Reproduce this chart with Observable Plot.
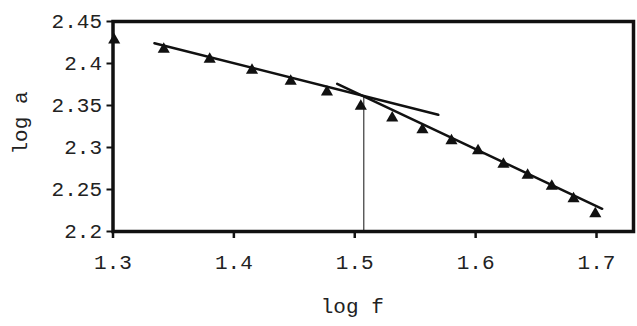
<!DOCTYPE html>
<html>
<head>
<meta charset="utf-8">
<script src="https://cdn.jsdelivr.net/npm/d3@7"></script>
<script src="https://cdn.jsdelivr.net/npm/@observablehq/plot@0.6"></script>
<style>
  html, body { margin: 0; padding: 0; background: #fff; }
</style>
</head>
<body>
<div id="chart"></div>
<script>
// Measured points (log f, log a)
const logF = [1.301, 1.342, 1.380, 1.415, 1.447, 1.477, 1.505, 1.531, 1.556, 1.580, 1.602, 1.623, 1.643, 1.663, 1.681, 1.699];
const logA = [2.428, 2.417, 2.405, 2.392, 2.379, 2.366, 2.349, 2.335, 2.321, 2.308, 2.296, 2.280, 2.267, 2.254, 2.239, 2.221];

// Fitted line segments
const fit1X = [1.3343, 1.5691];
const fit1Y = [2.4242, 2.3389];
const fit2X = [1.4855, 1.7047];
const fit2Y = [2.3758, 2.2270];

// Break point (vertical line)
const breakX = 1.5075;
const breakY = 2.3612;

const xTicks = [1.3, 1.4, 1.5, 1.6, 1.7];
const yTicks = [2.2, 2.25, 2.3, 2.35, 2.4, 2.45];

const points = logF.map((x, i) => ({x, y: logA[i]}));
const fit1 = fit1X.map((x, i) => ({x, y: fit1Y[i]}));
const fit2 = fit2X.map((x, i) => ({x, y: fit2Y[i]}));

const ink = "#111";

const chart = Plot.plot({
  width: 637,
  height: 326,
  marginLeft: 112.5,
  marginRight: 4,
  marginTop: 21,
  marginBottom: 95,
  style: {fontFamily: "'Liberation Mono', 'Courier New', monospace", fontSize: "21px", color: "#222", background: "#fff"},
  x: {domain: [1.3, 1.7306]},
  y: {domain: [2.2, 2.45]},
  marks: [
    Plot.ruleX([breakX], {y1: 2.2, y2: breakY, stroke: ink, strokeWidth: 1}),
    Plot.line(fit1, {x: "x", y: "y", stroke: ink, strokeWidth: 2.5}),
    Plot.line(fit2, {x: "x", y: "y", stroke: ink, strokeWidth: 2.5}),
    Plot.dot(points, {x: "x", y: "y", symbol: "triangle", r: 4.5, fill: ink, stroke: "none"}),
    Plot.frame({stroke: ink, strokeWidth: 3.5}),
    Plot.axisX({ticks: xTicks, tickSize: 7, tickPadding: 16, strokeWidth: 2.5, stroke: ink, tickFormat: d => d.toFixed(1), label: null}),
    Plot.axisY({ticks: yTicks, tickSize: 6, tickPadding: 5, strokeWidth: 2, stroke: ink, tickFormat: d => String(d), label: null}),
    Plot.text(["log f"], {frameAnchor: "bottom", textAnchor: "middle", dx: -21, dy: 75, lineAnchor: "middle", fill: "#222"}),
    Plot.text(["log a"], {frameAnchor: "left", textAnchor: "middle", dx: -93, dy: -3.5, rotate: -90, lineAnchor: "middle", fill: "#222"})
  ]
});
document.getElementById("chart").appendChild(chart);
</script>
</body>
</html>
